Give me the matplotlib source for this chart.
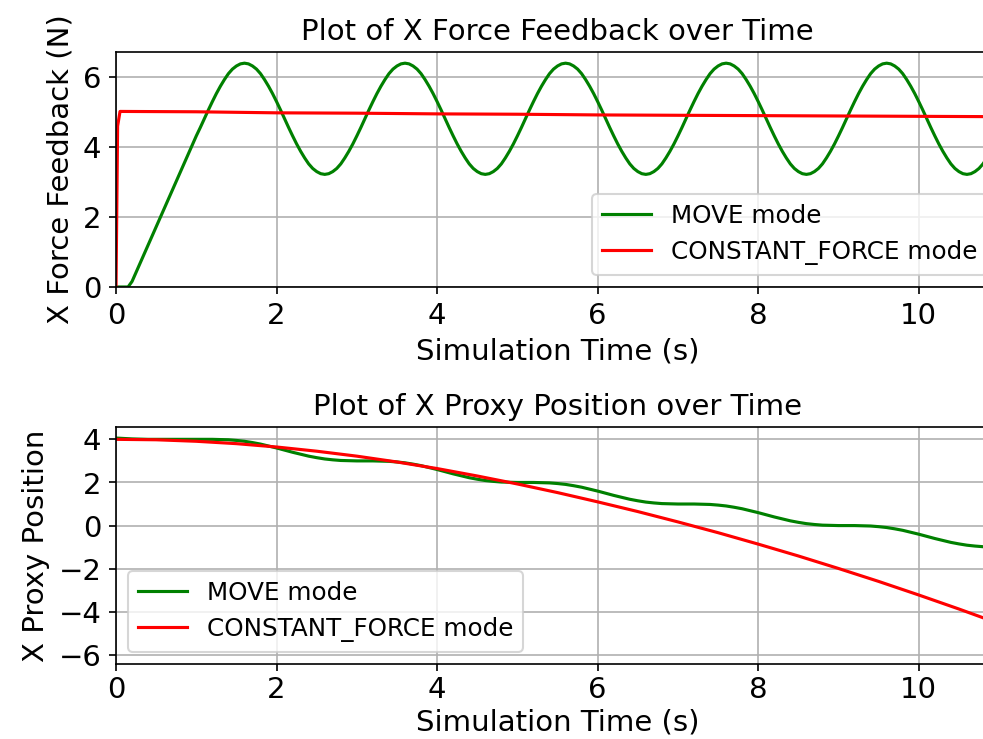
import numpy as np
import matplotlib
matplotlib.use("Agg")
import matplotlib.pyplot as plt
from matplotlib.ticker import MultipleLocator

# sample times (s)
t_force = np.round(np.arange(0, 11.001, 0.05), 2)
t = np.round(np.arange(0, 11.01, 0.1), 2)

# X force feedback, MOVE mode (0.05 s steps)
move_force = [
    0.00, 0.00, 0.00, 0.00, 0.16, 0.42, 0.68, 0.94, 1.20, 1.46,
    1.72, 1.98, 2.24, 2.50, 2.76, 3.02, 3.28, 3.54, 3.80, 4.06,
    4.32, 4.56, 4.81, 5.06, 5.30, 5.53, 5.74, 5.93, 6.10, 6.23,
    6.32, 6.38,
    6.40, 6.38, 6.32, 6.23, 6.10, 5.93, 5.74, 5.53, 5.30, 5.06,
    4.81, 4.56, 4.32, 4.09, 3.88, 3.69, 3.52, 3.39, 3.30, 3.24,
    3.22, 3.24, 3.30, 3.39, 3.52, 3.69, 3.88, 4.09, 4.32, 4.56,
    4.81, 5.06, 5.30, 5.53, 5.74, 5.93, 6.10, 6.23, 6.32, 6.38,
    6.40, 6.38, 6.32, 6.23, 6.10, 5.93, 5.74, 5.53, 5.30, 5.06,
    4.81, 4.56, 4.32, 4.09, 3.88, 3.69, 3.52, 3.39, 3.30, 3.24,
    3.22, 3.24, 3.30, 3.39, 3.52, 3.69, 3.88, 4.09, 4.32, 4.56,
    4.81, 5.06, 5.30, 5.53, 5.74, 5.93, 6.10, 6.23, 6.32, 6.38,
    6.40, 6.38, 6.32, 6.23, 6.10, 5.93, 5.74, 5.53, 5.30, 5.06,
    4.81, 4.56, 4.32, 4.09, 3.88, 3.69, 3.52, 3.39, 3.30, 3.24,
    3.22, 3.24, 3.30, 3.39, 3.52, 3.69, 3.88, 4.09, 4.32, 4.56,
    4.81, 5.06, 5.30, 5.53, 5.74, 5.93, 6.10, 6.23, 6.32, 6.38,
    6.40, 6.38, 6.32, 6.23, 6.10, 5.93, 5.74, 5.53, 5.30, 5.06,
    4.81, 4.56, 4.32, 4.09, 3.88, 3.69, 3.52, 3.39, 3.30, 3.24,
    3.22, 3.24, 3.30, 3.39, 3.52, 3.69, 3.88, 4.09, 4.32, 4.56,
    4.81, 5.06, 5.30, 5.53, 5.74, 5.93, 6.10, 6.23, 6.32, 6.38,
    6.40, 6.38, 6.32, 6.23, 6.10, 5.93, 5.74, 5.53, 5.30, 5.06,
    4.81, 4.56, 4.32, 4.09, 3.88, 3.69, 3.52, 3.39, 3.30, 3.24,
    3.22, 3.24, 3.30, 3.39, 3.52, 3.69, 3.88, 4.09, 4.32,
]

# X force feedback, CONSTANT_FORCE mode
cf_force_t = [0, 0.02, 0.05, 1, 2, 3, 4, 5, 6, 7, 8, 9, 10, 11]
cf_force = [0.0, 4.6, 5.02, 5.01, 4.98, 4.97, 4.95, 4.94, 4.92, 4.91,
            4.90, 4.89, 4.88, 4.87]

# X proxy position, MOVE mode (0.1 s steps)
move_pos = [
    4.06, 4.04, 4.02, 4.01, 4.00, 4.00, 4.00, 4.00, 4.00, 4.00, 4.00,
    4.00, 4.00, 3.99, 3.98, 3.95, 3.91, 3.85, 3.78, 3.69, 3.60,
    3.50, 3.40, 3.31, 3.22, 3.15, 3.09, 3.05, 3.02, 3.01, 3.00,
    3.00, 3.00, 2.99, 2.98, 2.95, 2.91, 2.85, 2.78, 2.69, 2.60,
    2.50, 2.40, 2.31, 2.22, 2.15, 2.09, 2.05, 2.02, 2.01, 2.00,
    2.00, 2.00, 1.99, 1.98, 1.95, 1.91, 1.85, 1.78, 1.69, 1.60,
    1.50, 1.40, 1.31, 1.22, 1.15, 1.09, 1.05, 1.02, 1.01, 1.00,
    1.00, 1.00, 0.99, 0.98, 0.95, 0.91, 0.85, 0.78, 0.69, 0.60,
    0.50, 0.40, 0.31, 0.22, 0.15, 0.09, 0.05, 0.02, 0.01, 0.00,
    0.00, 0.00, -0.01, -0.02, -0.05, -0.09, -0.15, -0.22, -0.31, -0.40,
    -0.50, -0.60, -0.69, -0.78, -0.85, -0.91, -0.95, -0.98, -0.99, -1.00,
]

# X proxy position, CONSTANT_FORCE mode
cf_pos_t = [0, 0.5, 1, 1.5, 2, 2.5, 3, 3.5, 4, 4.5, 5, 5.5, 6, 6.5, 7,
            7.5, 8, 8.5, 9, 9.5, 10, 10.5, 11]
cf_pos = [4.00, 3.98, 3.91, 3.80, 3.645, 3.45, 3.22, 2.95, 2.645, 2.30,
          1.93, 1.53, 1.10, 0.65, 0.17, -0.33, -0.86, -1.41, -1.99, -2.59,
          -3.22, -3.87, -4.545]

plt.rcParams['font.size'] = 14

fig = plt.figure(figsize=(6.56, 4.927), dpi=150)
ax1 = fig.add_axes([0.1179, 0.6116, 0.8974, 0.318])
ax2 = fig.add_axes([0.1179, 0.1015, 0.8974, 0.3203])

ax1.plot(t_force, move_force, color='green', label='MOVE mode')
ax1.plot(cf_force_t, cf_force, color='red', label='CONSTANT_FORCE mode')
ax1.set_xlim(0, 11)
ax1.set_ylim(0, 6.72)
ax1.set_title('Plot of X Force Feedback over Time', fontsize=14)
ax1.set_xlabel('Simulation Time (s)')
ax1.set_ylabel('X Force Feedback (N)')
ax1.grid(True)
ax1.legend(loc='lower right', fontsize=11.8)

ax2.plot(t, move_pos, color='green', label='MOVE mode')
ax2.plot(cf_pos_t, cf_pos, color='red', label='CONSTANT_FORCE mode')
ax2.set_xlim(0, 11)
ax2.set_ylim(-6.42, 4.56)
ax2.yaxis.set_major_locator(MultipleLocator(2))
ax2.tick_params(axis='x', pad=2.3)
ax2.set_title('Plot of X Proxy Position over Time', fontsize=14)
ax2.set_xlabel('Simulation Time (s)', labelpad=2)
ax2.set_ylabel('X Proxy Position')
ax2.grid(True)
ax2.legend(loc='lower left', fontsize=11.8)

fig.savefig('out.png', dpi=150)
